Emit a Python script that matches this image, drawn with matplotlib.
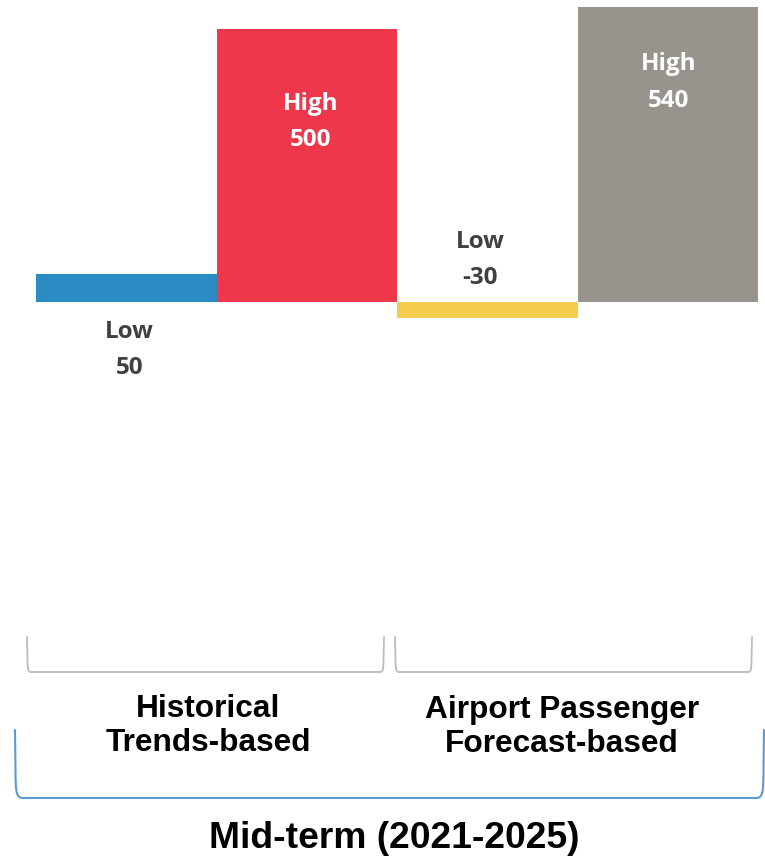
import matplotlib
matplotlib.use("Agg")
import matplotlib.pyplot as plt
from matplotlib.path import Path
from matplotlib.patches import PathPatch

# ---- data ----
bar_names = ["Low", "High", "Low", "High"]
bar_values = [50, 500, -30, 540]
bar_colors = ["#2B8CC4", "#EE374A", "#F5CD4E", "#98938D"]
group_labels = ["Historical\nTrends-based", "Airport Passenger\nForecast-based"]
period_label = "Mid-term (2021-2025)"

W, H = 765, 859
fig = plt.figure(figsize=(W / 100, H / 100), dpi=100)

# bar axes (pixel geometry)
x0, x1 = 36, 758
zero_px = 301.5
px_per_unit = 0.545
ytop = zero_px / px_per_unit
ybot = -(H - zero_px) / px_per_unit
ax = fig.add_axes([x0 / W, 0, (x1 - x0) / W, 1])
ax.set_xlim(-0.5, 3.5)
ax.set_ylim(ybot, ytop)
ax.axis("off")

xs = list(range(len(bar_values)))
ax.bar(xs, bar_values, width=1.0, color=bar_colors, linewidth=0)

lab_font = dict(family="Open Sans", fontweight="bold", fontsize=17.5,
                ha="center", va="center")
# label placement offsets in pixels: (dx, dy_name, dy_value)
offsets = {0: (3, -30, -66), 1: (4, -75, -111), 2: (-7, 60, 24), 3: (1, -57, -94)}
for i, (n, v) in enumerate(zip(bar_names, bar_values)):
    dx, dn, dv = offsets[i]
    if n == "High":
        anchor, col = (i, v), "white"
    else:
        anchor, col = (i, 0), "#404040"
    ax.annotate(n, anchor, xytext=(dx, dn), textcoords="offset pixels",
                color=col, **lab_font)
    ax.annotate(f"{v}", anchor, xytext=(dx, dv), textcoords="offset pixels",
                color=col, **lab_font)

# overlay axes in pixel coords for brackets and text
ov = fig.add_axes([0, 0, 1, 1])
ov.set_xlim(0, W)
ov.set_ylim(H, 0)
ov.axis("off")


def bracket(xl, xr, ytop_, ybot_, r, color, lw):
    verts = [(xl, ytop_), (xl + 0.5, ybot_ - 2 * r),
             (xl + 0.5, ybot_ - 0.3 * r), (xl + 1.5, ybot_), (xl + r * 0.6, ybot_),
             (xr - r * 0.6, ybot_),
             (xr - 1.5, ybot_), (xr - 0.5, ybot_ - 0.3 * r), (xr - 0.5, ybot_ - 2 * r),
             (xr, ytop_)]
    codes = [Path.MOVETO, Path.LINETO,
             Path.CURVE4, Path.CURVE4, Path.CURVE4,
             Path.LINETO,
             Path.CURVE4, Path.CURVE4, Path.CURVE4,
             Path.LINETO]
    ov.add_patch(PathPatch(Path(verts, codes), fill=False, edgecolor=color,
                           lw=lw, capstyle="round", joinstyle="round"))


bracket(27, 384, 637, 672, 6, "#BDBDBD", 1.3)
bracket(395, 752, 637, 672, 6, "#BDBDBD", 1.3)
bracket(15, 764, 730, 798, 14, "#5B9BD5", 1.5)

cat_font = dict(family="Liberation Sans", fontweight="bold", fontsize=22.8,
                ha="center", va="center", color="black", linespacing=1.18)
ov.text(208, 726, group_labels[0], **cat_font)
ov.text(562, 727, group_labels[1], **cat_font)
ov.text(394, 838, period_label, family="Liberation Sans", fontweight="bold",
        fontsize=26.8, ha="center", va="center", color="black")

fig.savefig("out.png", dpi=100)
